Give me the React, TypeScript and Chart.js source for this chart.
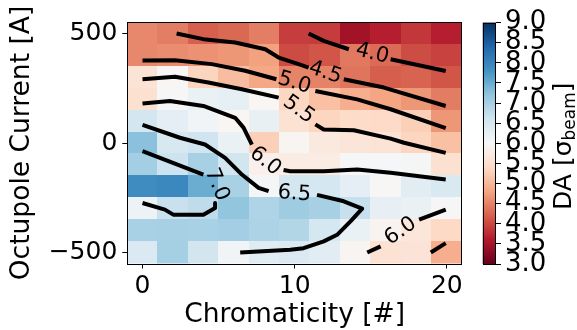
import React, { useEffect, useRef } from 'react';
import { Chart, registerables } from 'chart.js';
Chart.register(...registerables);

const FONT = 'DejaVu Sans';

// ---------- data ----------
const chromaticity = [0, 2, 4, 6, 8, 10, 12, 14, 16, 18, 20];
const currents = [500, 400, 300, 200, 100, 0, -100, -200, -300, -400, -500];

const da_p500 = [4.54, 4.46, 4.2, 4.28, 4.46, 3.92, 3.9, 3.47, 3.65, 3.87, 3.65];
const da_p400 = [4.54, 4.58, 4.63, 4.68, 4.77, 4.03, 4.12, 4.41, 4.3, 4.04, 3.96];
const da_p300 = [5.59, 5.98, 5.33, 5.07, 4.83, 4.51, 4.5, 4.38, 4.18, 4.23, 4.12];
const da_p200 = [5.51, 6.02, 6.2, 6.28, 5.95, 5.36, 5.1, 4.9, 4.81, 4.68, 4.44];
const da_p100 = [6.55, 6.3, 6.1, 5.95, 6.24, 5.55, 5.35, 5.42, 5.41, 5.28, 4.68];
const da_0 = [7.25, 6.5, 6.6, 6.2, 5.28, 5.93, 5.7, 5.62, 5.57, 5.35, 5.1];
const da_m100 = [7.04, 6.64, 7.0, 6.58, 5.85, 5.75, 5.75, 6.03, 6.03, 6.05, 5.52];
const da_m200 = [7.89, 7.94, 7.5, 6.98, 6.07, 6.55, 6.54, 6.3, 5.98, 6.35, 6.48];
const da_m300 = [6.17, 6.68, 6.76, 7.2, 6.91, 7.07, 7.0, 6.69, 6.26, 6.2, 6.02];
const da_m400 = [6.98, 7.0, 6.98, 7.04, 6.94, 6.89, 6.54, 6.21, 5.92, 5.63, 5.39];
const da_m500 = [6.44, 7.02, 6.57, 6.11, 6.38, 6.45, 6.33, 5.93, 5.54, 5.6, 4.9];

const xTicks = [0, 10, 20];
const yTicks = [-500, 0, 500];
const cbTicks = [3.0, 3.5, 4.0, 4.5, 5.0, 5.5, 6.0, 6.5, 7.0, 7.5, 8.0, 8.5, 9.0];
const cbMin = 3;
const cbMax = 9;

// contour lines (chromaticity, current), split where the inline label sits
const c40_a = [[10.92, 500], [11.91, 466], [13.56, 428]];
const c40_b = [[16.31, 382], [19.93, 329]];
const c40_label = [15.1, 408];

const c45_a = [[2.24, 500], [4.0, 474], [6.09, 459], [8.07, 428], [8.95, 390], [10.26, 360], [10.92, 344]];
const c45_b = [[13.23, 291], [15.87, 253], [19.93, 169]];
const c45_label = [12.02, 321];

const c50_a = [[0, 376], [2.13, 378], [4.55, 360], [6.75, 330], [8.8, 291]];
const c50_b = [[11.36, 237], [14.11, 199], [16.31, 154], [19.93, 68]];
const c50_label = [9.98, 274];

const c55_a = [[0, 291], [2.13, 302], [4.33, 276], [6.53, 245], [8.95, 207]];
const c55_b = [[11.36, 85], [11.91, 62], [13.89, 58], [16.31, 20], [17.19, 1], [19.93, -45]];
const c55_label = [10.26, 152];

const c60_a = [[0, 180], [1.8, 192], [4.0, 169], [6.09, 115], [6.64, 70], [7.19, -7]];
const c60_b = [[9.27, -123], [9.71, -129], [11.91, -129], [14.11, -121], [16.31, -136], [19.93, -167]];
const c60_label = [8.07, -83];

const c65_a = [[0, 83], [2.46, 24], [4.11, -7], [5.43, -68], [6.53, -144], [7.63, -205], [8.29, -220]];
const c65_b = [[11.47, -237], [13.23, -266], [14.44, -300], [13.67, -358], [12.79, -419], [11.91, -449], [10.59, -480], [9.71, -487], [6.42, -500]];
const c65_label = [9.98, -232];

const c70_a = [[0, -37], [4.0, -144]];
const c70_b = [[4.77, -274], [4.77, -297], [4.0, -327], [2.02, -327], [1.47, -304], [0, -274]];
const c70_label = [4.88, -190];

const c60r_a = [[14.77, -500], [15.65, -472]];
const c60r_b = [[18.18, -350], [19.93, -304]];
const c60r_label = [16.97, -403];

const c60s = [[18.95, -500], [19.93, -457]];

// ---------- helpers ----------
const daGrid = [da_p500, da_p400, da_p300, da_p200, da_p100, da_0, da_m100, da_m200, da_m300, da_m400, da_m500];
const lines = [c40_a, c40_b, c45_a, c45_b, c50_a, c50_b, c55_a, c55_b, c60_a, c60_b, c65_a, c65_b, c70_a, c70_b, c60r_a, c60r_b, c60s];
const labels = [
  { text: '4.0', at: c40_label, from: c40_a, to: c40_b },
  { text: '4.5', at: c45_label, from: c45_a, to: c45_b },
  { text: '5.0', at: c50_label, from: c50_a, to: c50_b },
  { text: '5.5', at: c55_label, from: c55_a, to: c55_b },
  { text: '6.0', at: c60_label, from: c60_a, to: c60_b },
  { text: '6.5', at: c65_label, from: c65_a, to: c65_b },
  { text: '7.0', at: c70_label, from: c70_a, to: c70_b },
  { text: '6.0', at: c60r_label, from: c60r_a, to: c60r_b },
];

const RDBU = [
  [103, 0, 31], [178, 24, 43], [214, 96, 77], [244, 165, 130], [253, 219, 199], [247, 247, 247],
  [209, 229, 240], [146, 197, 222], [67, 147, 195], [33, 102, 172], [5, 48, 97],
];
function cmap(v: number) {
  let t = (v - cbMin) / (cbMax - cbMin);
  t = Math.max(0, Math.min(1, t));
  const s = t * (RDBU.length - 1);
  const i = Math.min(RDBU.length - 2, Math.floor(s));
  const f = s - i;
  const a = RDBU[i], b = RDBU[i + 1];
  const c = a.map((ai, k) => Math.round(ai + (b[k] - ai) * f));
  return `rgb(${c[0]},${c[1]},${c[2]})`;
}

const heatmapPlugin = {
  id: 'heatmap',
  beforeDatasetsDraw(chart: any) {
    const { ctx, chartArea, scales } = chart;
    const xs = scales.x, ys = scales.y;
    const hx = (chromaticity[1] - chromaticity[0]) / 2;
    const hy = Math.abs(currents[0] - currents[1]) / 2;
    ctx.save();
    ctx.beginPath();
    ctx.rect(chartArea.left, chartArea.top, chartArea.right - chartArea.left, chartArea.bottom - chartArea.top);
    ctx.clip();
    daGrid.forEach((row, i) => {
      row.forEach((v, j) => {
        const x0 = xs.getPixelForValue(chromaticity[j] - hx);
        const x1 = xs.getPixelForValue(chromaticity[j] + hx);
        const y0 = ys.getPixelForValue(currents[i] + hy);
        const y1 = ys.getPixelForValue(currents[i] - hy);
        ctx.fillStyle = cmap(v);
        ctx.fillRect(Math.floor(x0), Math.floor(y0), Math.ceil(x1) - Math.floor(x0) + 0.5, Math.ceil(y1) - Math.floor(y0) + 0.5);
      });
    });
    ctx.restore();
  },
};

const labelPlugin = {
  id: 'clabels',
  afterDatasetsDraw(chart: any) {
    const { ctx, scales } = chart;
    const xs = scales.x, ys = scales.y;
    ctx.save();
    ctx.font = `21px "${FONT}"`;
    ctx.fillStyle = '#000';
    ctx.textAlign = 'center';
    ctx.textBaseline = 'middle';
    labels.forEach((l) => {
      const p1 = l.from[l.from.length - 1];
      const p2 = l.to[0];
      const dx = xs.getPixelForValue(p2[0]) - xs.getPixelForValue(p1[0]);
      const dy = ys.getPixelForValue(p2[1]) - ys.getPixelForValue(p1[1]);
      let ang = Math.atan2(dy, dx);
      if (ang > Math.PI / 2) ang -= Math.PI;
      if (ang < -Math.PI / 2) ang += Math.PI;
      ctx.save();
      ctx.translate(xs.getPixelForValue(l.at[0]), ys.getPixelForValue(l.at[1]));
      ctx.rotate(ang);
      ctx.fillText(l.text, 0, 0);
      ctx.restore();
    });
    ctx.restore();
  },
};

const framePlugin = {
  id: 'frame',
  afterDraw(chart: any) {
    const { ctx, chartArea } = chart;
    ctx.save();
    ctx.strokeStyle = '#000';
    ctx.lineWidth = 1;
    ctx.strokeRect(Math.round(chartArea.left) + 0.5, Math.round(chartArea.top) - 0.5,
      Math.round(chartArea.right - chartArea.left) - 1, Math.round(chartArea.bottom - chartArea.top) + 1);
    ctx.restore();
  },
};

const gradientPlugin = {
  id: 'cbgrad',
  beforeDatasetsDraw(chart: any) {
    const { ctx, chartArea, scales } = chart;
    const ys = scales.y;
    const g = ctx.createLinearGradient(0, ys.getPixelForValue(cbMin), 0, ys.getPixelForValue(cbMax));
    RDBU.forEach((c, i) => g.addColorStop(i / (RDBU.length - 1), `rgb(${c[0]},${c[1]},${c[2]})`));
    ctx.save();
    ctx.fillStyle = g;
    ctx.fillRect(chartArea.left, chartArea.top, chartArea.right - chartArea.left, chartArea.bottom - chartArea.top);
    ctx.strokeStyle = '#000';
    ctx.lineWidth = 1;
    ctx.strokeRect(Math.round(chartArea.left) + 0.5, Math.round(chartArea.top) + 0.5,
      Math.round(chartArea.right - chartArea.left) - 1, Math.round(chartArea.bottom - chartArea.top) - 1);
    ctx.restore();
  },
  afterDraw(chart: any) {
    const { ctx, chartArea } = chart;
    const cy = (chartArea.top + chartArea.bottom) / 2 + 3;
    const mainFont = `25px "${FONT}"`;
    const subFont = `17px "${FONT}"`;
    ctx.save();
    const parts = [
      { t: 'DA [', f: mainFont, dy: 0 },
      { t: 'σ', f: mainFont, dy: 0 },
      { t: 'beam', f: subFont, dy: 4 },
      { t: ']', f: mainFont, dy: 0 },
    ];
    let total = 0;
    parts.forEach((p) => { ctx.font = p.f; total += ctx.measureText(p.t).width; });
    ctx.translate(101, cy + total / 2);
    ctx.rotate(-Math.PI / 2);
    ctx.fillStyle = '#000';
    ctx.textBaseline = 'alphabetic';
    ctx.textAlign = 'left';
    let x = 0;
    parts.forEach((p) => { ctx.font = p.f; ctx.fillText(p.t, x, p.dy); x += ctx.measureText(p.t).width; });
    ctx.restore();
  },
};

const minus = (v: number) => (v < 0 ? '\u2212' + Math.abs(v) : String(v));

export default function App() {
  const mainRef = useRef<HTMLCanvasElement>(null);
  const cbRef = useRef<HTMLCanvasElement>(null);

  useEffect(() => {
    Chart.defaults.font.family = FONT;
    const datasets = lines.map((pts) => ({
      data: pts.map((p) => ({ x: p[0], y: p[1] })),
      showLine: true,
      borderColor: '#000',
      borderWidth: 4,
      pointRadius: 0,
      tension: 0,
      borderJoinStyle: 'round' as const,
      borderCapStyle: 'butt' as const,
    }));
    const main = new Chart(mainRef.current!, {
      type: 'scatter',
      data: { datasets },
      options: {
        animation: false,
        responsive: false,
        devicePixelRatio: 1,
        events: [],
        layout: { padding: { left: 0, right: 115, top: 22.5, bottom: 0 } },
        plugins: { legend: { display: false }, tooltip: { enabled: false } },
        scales: {
          x: {
            type: 'linear', min: -1, max: 21,
            afterBuildTicks: (s: any) => { s.ticks = xTicks.map((v) => ({ value: v })); },
            afterFit: (s: any) => { s.height = 66.5; },
            ticks: { font: { size: 25 }, color: '#000', padding: 3, maxRotation: 0, autoSkip: false, callback: (v: any) => minus(Number(v)) },
            grid: { drawOnChartArea: false, drawTicks: true, tickLength: 5, color: '#000' },
            border: { display: false },
            title: { display: true, text: 'Chromaticity [#]', color: '#000', font: { size: 26.5 }, padding: { top: 0, bottom: -1 } },
          },
          y: {
            type: 'linear', min: -550, max: 550,
            afterBuildTicks: (s: any) => { s.ticks = yTicks.map((v) => ({ value: v })); },
            afterFit: (s: any) => { s.width = 127.3; },
            ticks: { font: { size: 25 }, color: '#000', padding: 5, autoSkip: false, callback: (v: any) => minus(Number(v)) },
            grid: { drawOnChartArea: false, drawTicks: true, tickLength: 5, color: '#000' },
            border: { display: false },
            title: { display: true, text: 'Octupole Current [A]', color: '#000', font: { size: 26.5 }, padding: { top: 6.5, bottom: 0 } },
          },
        },
      },
      plugins: [heatmapPlugin, labelPlugin, framePlugin],
    });

    const cb = new Chart(cbRef.current!, {
      type: 'scatter',
      data: { datasets: [] },
      options: {
        animation: false,
        responsive: false,
        devicePixelRatio: 1,
        events: [],
        layout: { padding: { left: 12.7, right: 0, top: 22.5, bottom: 66 } },
        plugins: { legend: { display: false }, tooltip: { enabled: false } },
        scales: {
          x: { display: false, min: 0, max: 1 },
          y: {
            position: 'right', min: cbMin, max: cbMax,
            afterBuildTicks: (s: any) => { s.ticks = cbTicks.map((v) => ({ value: v })); },
            afterFit: (s: any) => { s.width = 81; },
            ticks: { font: { size: 26 }, color: '#000', padding: 4, autoSkip: false, callback: (v: any) => Number(v).toFixed(1) },
            grid: { drawOnChartArea: false, drawTicks: true, tickLength: 5, color: '#000' },
            border: { display: false },
          },
        },
      },
      plugins: [gradientPlugin],
    });
    return () => { main.destroy(); cb.destroy(); };
  }, []);

  return (
    <div style={{ position: 'absolute', left: 0, top: 0, width: 577, height: 330, background: '#fff', overflow: 'hidden' }}>
      <canvas ref={mainRef} width={577} height={330} style={{ position: 'absolute', left: 0, top: 0 }} />
      <canvas ref={cbRef} width={107} height={330} style={{ position: 'absolute', left: 470, top: 0 }} />
    </div>
  );
}
